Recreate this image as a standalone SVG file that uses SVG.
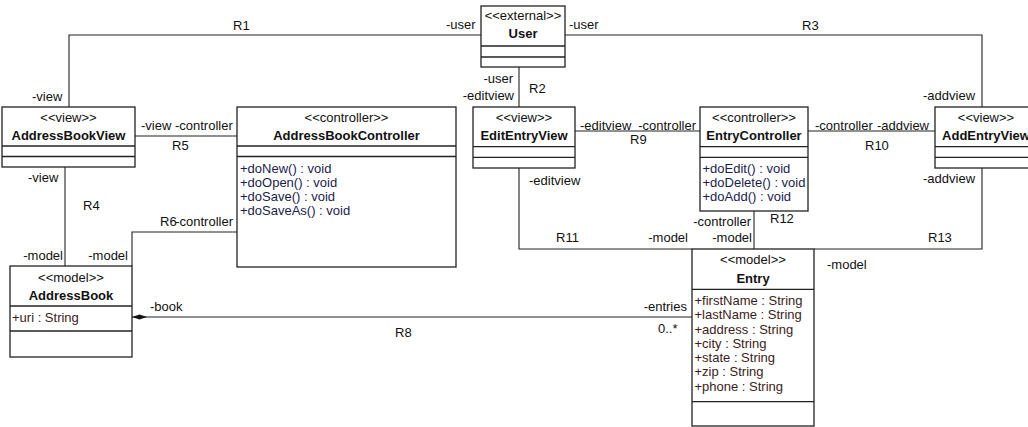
<svg xmlns="http://www.w3.org/2000/svg" width="1028" height="427" viewBox="0 0 1028 427">
<style>
text{font-family:"Liberation Sans",Arial,sans-serif;font-size:13px;fill:#111}
.st{text-anchor:middle}
.nm{text-anchor:middle;font-weight:bold}
.e{text-anchor:end}
.box{fill:#fff;stroke:#222;stroke-width:1.3}
.sep{stroke:#222;stroke-width:1.3}
.op{fill:#1c1c4c}
.at{fill:#3c1c1c}
.c{fill:none;stroke:#222;stroke-width:1.1}
</style>
<defs>
<marker id="dia" markerWidth="16" markerHeight="6" refX="0" refY="3" orient="auto" markerUnits="userSpaceOnUse">
<polygon points="0,3 7.5,0.5 15,3 7.5,5.5" fill="#111"/>
</marker>
</defs>
<g id="connectors">
<polyline class="c" points="69,107 69,35 481,35"/>
<polyline class="c" points="565,35 982,35 982,107"/>
<line class="c" x1="519" y1="67" x2="519" y2="107"/>
<line class="c" x1="135" y1="136" x2="237" y2="136"/>
<line class="c" x1="65" y1="167" x2="65" y2="266"/>
<polyline class="c" points="237,232 132,232 132,266"/>
<line class="c" x1="132" y1="317" x2="692" y2="317" marker-start="url(#dia)"/>
<line class="c" x1="575" y1="131" x2="700" y2="131"/>
<line class="c" x1="808" y1="131" x2="935" y2="131"/>
<polyline class="c" points="519,168 519,249 692,249"/>
<line class="c" x1="754" y1="211" x2="754" y2="249"/>
<polyline class="c" points="982,168 982,249 814,249"/>
<text x="233" y="30">R1</text>
<text x="32" y="101">-view</text>
<text x="446" y="29">-user</text>
<text x="569" y="29">-user</text>
<text x="802" y="30">R3</text>
<text class="e" x="513" y="83">-user</text>
<text class="e" x="514" y="100">-editview</text>
<text x="529" y="93">R2</text>
<text x="923" y="100">-addview</text>
<text x="141" y="130">-view -controller</text>
<text x="172" y="150">R5</text>
<text x="580" y="130">-editview</text>
<text class="e" x="696" y="130">-controller</text>
<text x="630" y="144">R9</text>
<text x="815" y="130">-controller</text>
<text class="e" x="929" y="130">-addview</text>
<text x="865" y="150">R10</text>
<text x="28" y="182">-view</text>
<text x="83" y="210">R4</text>
<text x="160" y="226">R6</text>
<text class="e" x="233" y="226">-controller</text>
<text x="529" y="185">-editview</text>
<text x="923" y="183">-addview</text>
<text x="770" y="223">R12</text>
<text class="e" x="751" y="226">-controller</text>
<text x="556" y="242">R11</text>
<text class="e" x="688" y="242">-model</text>
<text class="e" x="752" y="242">-model</text>
<text x="928" y="242">R13</text>
<text x="827" y="269">-model</text>
<text class="e" x="63" y="260">-model</text>
<text class="e" x="128" y="260">-model</text>
<text x="150" y="311">-book</text>
<text class="e" x="687" y="311">-entries</text>
<text x="658" y="333">0..*</text>
<text x="395" y="337">R8</text>
</g>
<g id="User">
<rect class="box" x="481" y="6" width="84" height="61"/>
<line class="sep" x1="481" y1="46" x2="565" y2="46"/>
<line class="sep" x1="481" y1="57" x2="565" y2="57"/>
<text class="st" x="523" y="20">&lt;&lt;external&gt;&gt;</text>
<text class="nm" x="523" y="38">User</text>
</g>
<g id="AddressBookView">
<rect class="box" x="2" y="107" width="133" height="60"/>
<line class="sep" x1="2" y1="146" x2="135" y2="146"/>
<line class="sep" x1="2" y1="156.5" x2="135" y2="156.5"/>
<text class="st" x="68.5" y="122">&lt;&lt;view&gt;&gt;</text>
<text class="nm" x="68.5" y="140">AddressBookView</text>
</g>
<g id="AddressBookController">
<rect class="box" x="237" y="107" width="219" height="160"/>
<line class="sep" x1="237" y1="146" x2="456" y2="146"/>
<line class="sep" x1="237" y1="156.5" x2="456" y2="156.5"/>
<text class="st" x="346.5" y="122">&lt;&lt;controller&gt;&gt;</text>
<text class="nm" x="346.5" y="140">AddressBookController</text>
<text class="op" x="240" y="173">+doNew() : void</text>
<text class="op" x="240" y="187">+doOpen() : void</text>
<text class="op" x="240" y="201">+doSave() : void</text>
<text class="op" x="240" y="215">+doSaveAs() : void</text>
</g>
<g id="EditEntryView">
<rect class="box" x="473" y="107" width="102" height="61"/>
<line class="sep" x1="473" y1="146.7" x2="575" y2="146.7"/>
<line class="sep" x1="473" y1="157.3" x2="575" y2="157.3"/>
<text class="st" x="524" y="122">&lt;&lt;view&gt;&gt;</text>
<text class="nm" x="524" y="140">EditEntryView</text>
</g>
<g id="EntryController">
<rect class="box" x="700" y="107" width="108" height="104"/>
<line class="sep" x1="700" y1="146.7" x2="808" y2="146.7"/>
<line class="sep" x1="700" y1="157.3" x2="808" y2="157.3"/>
<text class="st" x="754" y="122">&lt;&lt;controller&gt;&gt;</text>
<text class="nm" x="754" y="140">EntryController</text>
<text class="op" x="702.5" y="173">+doEdit() : void</text>
<text class="op" x="702.5" y="187">+doDelete() : void</text>
<text class="op" x="702.5" y="201">+doAdd() : void</text>
</g>
<g id="AddEntryView">
<rect class="box" x="935" y="107" width="102" height="61"/>
<line class="sep" x1="935" y1="146.7" x2="1037" y2="146.7"/>
<line class="sep" x1="935" y1="157.3" x2="1037" y2="157.3"/>
<text class="st" x="986" y="122">&lt;&lt;view&gt;&gt;</text>
<text class="nm" x="986" y="140">AddEntryView</text>
</g>
<g id="AddressBook">
<rect class="box" x="10" y="266" width="122" height="91"/>
<line class="sep" x1="10" y1="306" x2="132" y2="306"/>
<line class="sep" x1="10" y1="331" x2="132" y2="331"/>
<text class="st" x="71" y="282">&lt;&lt;model&gt;&gt;</text>
<text class="nm" x="71" y="299.5">AddressBook</text>
<text class="at" x="12" y="322">+uri : String</text>
</g>
<g id="Entry">
<rect class="box" x="692" y="249" width="122" height="177"/>
<line class="sep" x1="692" y1="289.3" x2="814" y2="289.3"/>
<line class="sep" x1="692" y1="401.7" x2="814" y2="401.7"/>
<text class="st" x="753" y="264">&lt;&lt;model&gt;&gt;</text>
<text class="nm" x="753" y="283">Entry</text>
<text class="at" x="694.5" y="305">+firstName : String</text>
<text class="at" x="694.5" y="319.3">+lastName : String</text>
<text class="at" x="694.5" y="333.5">+address : String</text>
<text class="at" x="694.5" y="347.8">+city : String</text>
<text class="at" x="694.5" y="362">+state : String</text>
<text class="at" x="694.5" y="376.3">+zip : String</text>
<text class="at" x="694.5" y="390.6">+phone : String</text>
</g>
</svg>
